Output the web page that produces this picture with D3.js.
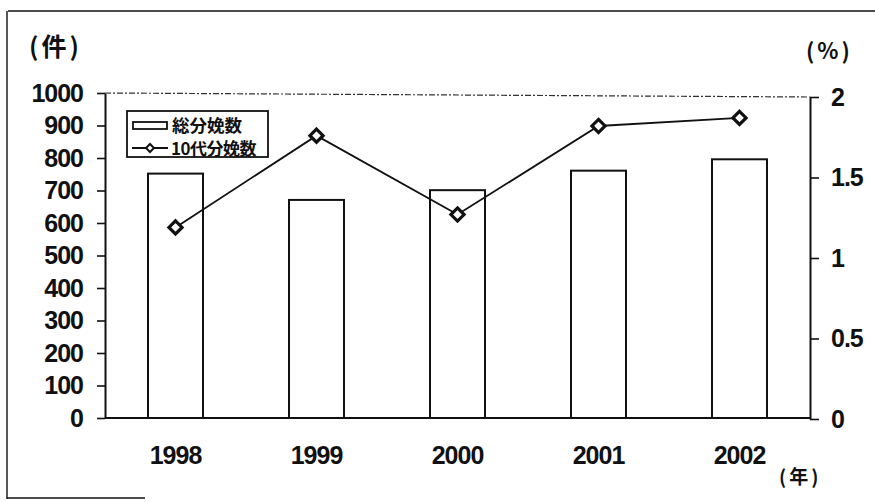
<!DOCTYPE html>
<html>
<head>
<meta charset="utf-8">
<script src="https://cdn.jsdelivr.net/npm/d3@7"></script>
<style>
  html, body { margin: 0; padding: 0; background: #fff; }
  svg { display: block; }
  .num { font-family: "Liberation Sans", Arial, sans-serif; font-weight: bold; fill: #111; letter-spacing: -1px; }
  .jp { font-family: "Noto Sans CJK JP", sans-serif; font-weight: bold; fill: #111; }
</style>
</head>
<body>
<svg id="chart" width="875" height="502"></svg>
<script>
// Births per year (count) and teen births share (%)
const years = ["1998", "1999", "2000", "2001", "2002"];
const totalBirths = [752, 671, 701, 761, 796];
const teenShare = [1.19, 1.76, 1.27, 1.82, 1.87];
const leftTicks = [0, 100, 200, 300, 400, 500, 600, 700, 800, 900, 1000];
const rightTicks = [0, 0.5, 1, 1.5, 2];
const legendLabels = ["総分娩数", "10代分娩数"];

const svg = d3.select("#chart");
const W = 875, H = 502;
const plot = { left: 105, right: 810, bottom: 418 };

const x = d3.scaleBand()
  .domain(years)
  .range([plot.left, plot.right])
  .paddingInner(0.61)
  .paddingOuter(0.305);

const yL = d3.scaleLinear().domain([0, 1000]).range([418, 93]);
const yR = d3.scaleLinear().domain([0, 2]).range([419, 97]);

// outer frame
const frame = svg.append("g").attr("stroke", "#111").attr("fill", "none");
frame.append("line").attr("x1", 8).attr("y1", 11).attr("x2", W).attr("y2", 11).attr("stroke-width", 1.6);
frame.append("line").attr("x1", 7).attr("y1", 11).attr("x2", 7).attr("y2", 499).attr("stroke-width", 1.4);
frame.append("line").attr("x1", 7).attr("y1", 498).attr("x2", 145).attr("y2", 498).attr("stroke-width", 1.6);

// plot area top edge
svg.append("line")
  .attr("x1", plot.left).attr("y1", yL(1000))
  .attr("x2", plot.right).attr("y2", yR(2))
  .attr("stroke", "#333").attr("stroke-width", 1.2)
  .attr("stroke-dasharray", "6,2,2,2");

// bars
svg.append("g").selectAll("rect")
  .data(years)
  .join("rect")
  .attr("x", d => x(d))
  .attr("width", x.bandwidth())
  .attr("y", (d, i) => yL(totalBirths[i]))
  .attr("height", (d, i) => yL(0) - yL(totalBirths[i]))
  .attr("fill", "#fff")
  .attr("stroke", "#111")
  .attr("stroke-width", 2);

function styleTicks(g) {
  g.select(".domain").attr("stroke", "#111").attr("stroke-width", 2);
  g.selectAll(".tick line").attr("stroke", "#111").attr("stroke-width", 1.6);
  g.selectAll(".tick text").attr("class", "num").style("font-size", "25px")
    .attr("font-family", null).attr("fill", null);
}

// left axis
const axL = svg.append("g")
  .attr("transform", `translate(${plot.left},0)`)
  .call(d3.axisLeft(yL).tickValues(leftTicks).tickFormat(d3.format("d"))
    .tickSize(8).tickPadding(14).tickSizeOuter(0));
styleTicks(axL);

// right axis
const axR = svg.append("g")
  .attr("transform", `translate(${plot.right},0)`)
  .call(d3.axisRight(yR).tickValues(rightTicks).tickSize(9).tickPadding(12).tickSizeOuter(0)
    .tickFormat(d => String(d)));
styleTicks(axR);

// category axis
const axB = svg.append("g")
  .attr("transform", `translate(0,${plot.bottom})`)
  .call(d3.axisBottom(x).tickSize(0).tickPadding(28));
styleTicks(axB);
axB.select(".domain").attr("d", `M${plot.left},0H${plot.right}`);

// line series
const line = d3.line()
  .x((d, i) => x(years[i]) + x.bandwidth() / 2)
  .y(d => yR(d));
svg.append("path")
  .datum(teenShare)
  .attr("d", line)
  .attr("fill", "none")
  .attr("stroke", "#111")
  .attr("stroke-width", 1.8);

const diamond = d3.symbol().type(d3.symbolDiamond2).size(110);
svg.append("g").selectAll("path")
  .data(teenShare)
  .join("path")
  .attr("d", diamond)
  .attr("transform", (d, i) => `translate(${x(years[i]) + x.bandwidth() / 2},${yR(d)})`)
  .attr("fill", "#fff")
  .attr("stroke", "#111")
  .attr("stroke-width", 3.2);

// unit labels
svg.append("text").attr("class", "jp").attr("x", 29).attr("y", 56)
  .style("font-size", "25px").style("letter-spacing", "3px").text("(件)");
svg.append("text").attr("class", "jp").attr("x", 806).attr("y", 59)
  .style("font-size", "22px").style("letter-spacing", "3px").text("(%)");
svg.append("text").attr("class", "jp").attr("x", 779).attr("y", 484)
  .style("font-size", "19px").style("letter-spacing", "3px").text("(年)");

// legend
const lg = svg.append("g");
lg.append("rect").attr("x", 127).attr("y", 111).attr("width", 141).attr("height", 46)
  .attr("fill", "#fff").attr("stroke", "#111").attr("stroke-width", 1.8);
lg.append("rect").attr("x", 133).attr("y", 122).attr("width", 34).attr("height", 7)
  .attr("fill", "#fff").attr("stroke", "#111").attr("stroke-width", 1.8);
lg.append("line").attr("x1", 132).attr("x2", 168).attr("y1", 148).attr("y2", 148)
  .attr("stroke", "#111").attr("stroke-width", 1.8);
lg.append("path").attr("d", d3.symbol().type(d3.symbolDiamond2).size(40))
  .attr("transform", "translate(150,148)")
  .attr("fill", "#fff").attr("stroke", "#111").attr("stroke-width", 2);
lg.append("text").attr("class", "jp").attr("x", 172).attr("y", 132)
  .style("font-size", "17.5px").text(legendLabels[0]);
lg.append("text").attr("class", "jp").attr("x", 171).attr("y", 155)
  .style("font-size", "17px").style("letter-spacing", "-0.5px").text(legendLabels[1]);
</script>
</body>
</html>
